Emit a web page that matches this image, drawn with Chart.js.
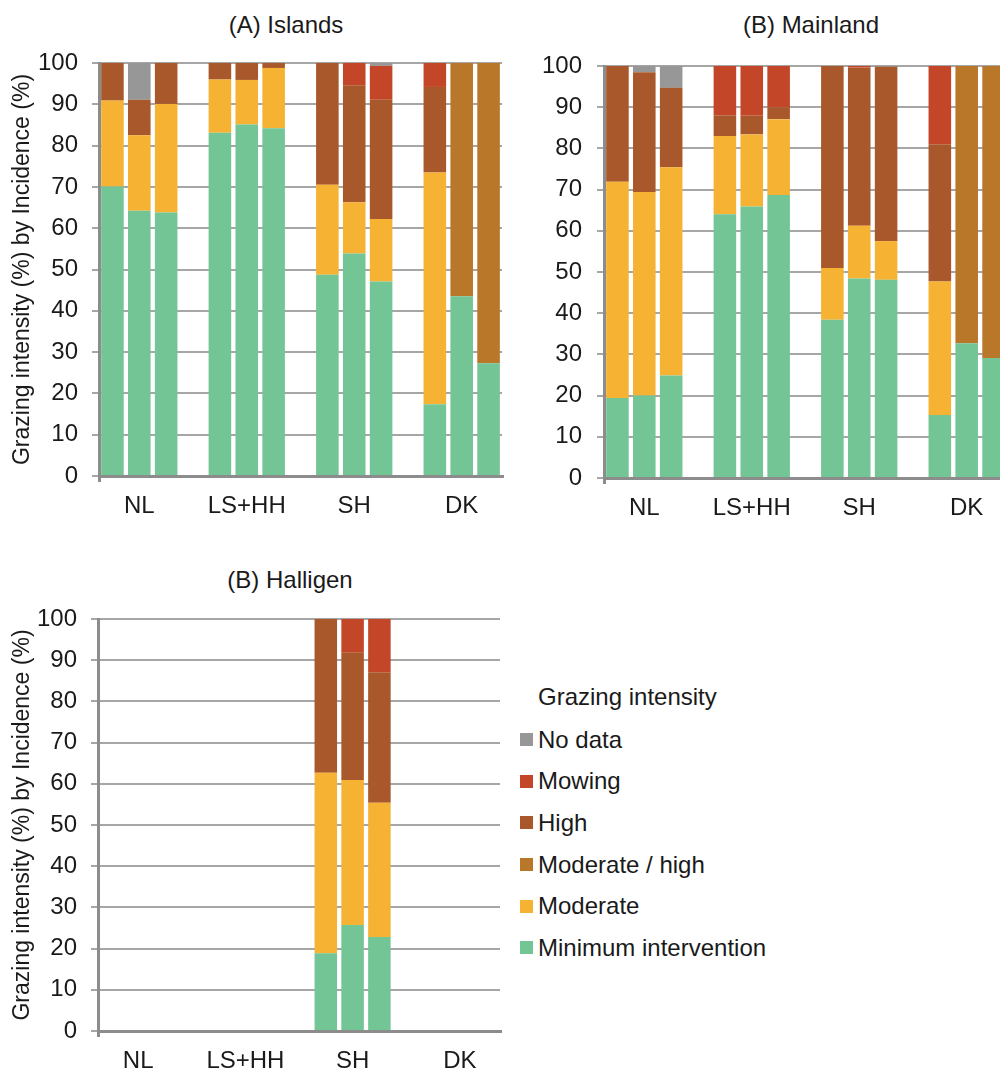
<!DOCTYPE html>
<html>
<head>
<meta charset="utf-8">
<script src="https://cdn.jsdelivr.net/npm/chart.js@4.4.1/dist/chart.umd.min.js"></script>
<style>
  body { margin: 0; background: #fff; overflow: hidden; font-family: "Liberation Sans", Arial, sans-serif; }
  #page { position: relative; width: 1000px; height: 1070px; overflow: hidden; background: #fff; }
  canvas { position: absolute; }
  .panel-title { position: absolute; font-size: 24px; color: #1a1a1a; transform: translate(-50%, -50%); white-space: nowrap; }
  #legend { position: absolute; left: 520px; top: 675px; font-size: 24px; color: #1a1a1a; }
  #legend .row { height: 41.6px; display: flex; align-items: center; white-space: nowrap; }
  #legend .head { padding-left: 18px; height: 44px; }
  #legend .box { width: 13px; height: 13px; margin-right: 5px; }
</style>
</head>
<body>
<div id="page">
  <div class="panel-title" style="left:286px; top:25px;">(A) Islands</div>
  <div class="panel-title" style="left:811px; top:25px;">(B) Mainland</div>
  <div class="panel-title" style="left:290px; top:580px;">(B) Halligen</div>
  <canvas id="islands" width="515" height="520" style="left:0; top:0;"></canvas>
  <canvas id="mainland" width="520" height="520" style="left:500px; top:0;"></canvas>
  <canvas id="halligen" width="515" height="510" style="left:0; top:560px;"></canvas>
  <div id="legend"></div>
</div>
<script>
// categories and series (bottom of stack first)
const groups = ['NL', 'LS+HH', 'SH', 'DK'];
const seriesNames = ['Minimum intervention', 'Moderate', 'Moderate / high', 'High', 'Mowing', 'No data'];
const seriesColors = ['#73c596', '#f5b233', '#b9772a', '#a8582a', '#c44628', '#979797'];
const yTicks = [0, 10, 20, 30, 40, 50, 60, 70, 80, 90, 100];
const yTitle = 'Grazing intensity (%) by Incidence (%)';

// three bars per group
const islandsMinimum  = [70.1, 64.2, 63.8, 83.1, 85.1, 84.2, 48.7, 53.9, 47.1, 17.4, 43.5, 27.3];
const islandsModerate = [20.8, 18.3, 26.3, 12.9, 10.8, 14.6, 21.8, 12.4, 15.1, 56.1, 0, 0];
const islandsModHigh  = [0, 0, 0, 0, 0, 0, 0, 0, 0, 0, 56.5, 72.7];
const islandsHigh     = [9.1, 8.6, 9.9, 4.0, 4.1, 1.2, 29.5, 28.3, 28.9, 20.7, 0, 0];
const islandsMowing   = [0, 0, 0, 0, 0, 0, 0, 5.4, 8.2, 5.8, 0, 0];
const islandsNoData   = [0, 8.9, 0, 0, 0, 0, 0, 0, 0.7, 0, 0, 0];

const mainlandMinimum  = [19.4, 20.0, 24.9, 64.0, 65.9, 68.7, 38.4, 48.4, 48.1, 15.3, 32.7, 29.1];
const mainlandModerate = [52.5, 49.4, 50.5, 19.0, 17.5, 18.4, 12.6, 12.8, 9.4, 32.4, 0, 0];
const mainlandModHigh  = [0, 0, 0, 0, 0, 0, 0, 0, 0, 0, 67.3, 70.9];
const mainlandHigh     = [28.1, 29.1, 19.3, 5.0, 4.5, 2.9, 49.0, 38.4, 42.3, 33.3, 0, 0];
const mainlandMowing   = [0, 0, 0, 12.0, 12.1, 10.0, 0, 0.4, 0, 19.0, 0, 0];
const mainlandNoData   = [0, 1.5, 5.3, 0, 0, 0, 0, 0, 0.2, 0, 0, 0];

const halligenMinimum  = [null, null, null, null, null, null, 18.9, 25.7, 22.8, null, null, null];
const halligenModerate = [null, null, null, null, null, null, 43.8, 35.2, 32.6, null, null, null];
const halligenModHigh  = [null, null, null, null, null, null, 0, 0, 0, null, null, null];
const halligenHigh     = [null, null, null, null, null, null, 37.3, 31.0, 31.7, null, null, null];
const halligenMowing   = [null, null, null, null, null, null, 0, 8.1, 12.9, null, null, null];
const halligenNoData   = [null, null, null, null, null, null, 0, 0, 0, null, null, null];

// 3 bars per group plus an empty slot between groups
function toSlots(values) {
    const out = [];
    values.forEach((v, i) => {
        out.push(v);
        if (i % 3 === 2 && i < values.length - 1) out.push(null);
    });
    return out;
}

const slotLabels = [];
groups.forEach((g, k) => {
    slotLabels.push('', g, '');
    if (k < groups.length - 1) slotLabels.push('');
});

const textColor = '#1a1a1a';
const gridColor = '#a6a6a6';
const axisColor = '#8c8c8c';
const fontFamily = '"Liberation Sans", Arial, sans-serif';

function makePanel(id, series, o) {
    const ctx = document.getElementById(id).getContext('2d');
    return new Chart(ctx, {
        type: 'bar',
        data: {
            labels: slotLabels,
            datasets: series.map((values, i) => ({
                label: seriesNames[i],
                data: toSlots(values),
                backgroundColor: seriesColors[i],
                borderWidth: 0,
                categoryPercentage: 1,
                barPercentage: 0.84
            }))
        },
        options: {
            responsive: false,
            animation: false,
            layout: { padding: o.padding },
            plugins: { legend: { display: false }, tooltip: { enabled: false } },
            scales: {
                x: {
                    stacked: true,
                    afterFit: s => { s.height = o.xHeight; },
                    grid: {
                        drawOnChartArea: false,
                        tickLength: 6,
                        lineWidth: 3,
                        color: c => c.index === 0 ? axisColor : 'rgba(0,0,0,0)'
                    },
                    border: { color: axisColor, width: 3 },
                    ticks: {
                        autoSkip: false, maxRotation: 0, padding: 10,
                        color: textColor, font: { family: fontFamily, size: 24 }
                    }
                },
                y: {
                    stacked: true,
                    min: 0, max: 100,
                    afterFit: s => { s.width = o.yWidth; },
                    afterBuildTicks: s => { s.ticks = yTicks.map(v => ({ value: v })); },
                    grid: { color: gridColor, lineWidth: 2, tickLength: 7 },
                    border: { color: axisColor, width: 3 },
                    ticks: { padding: o.tickPad, color: textColor, font: { family: fontFamily, size: 24 } },
                    title: {
                        display: o.showTitle,
                        text: yTitle,
                        color: textColor,
                        font: { family: fontFamily, size: 23 },
                        padding: { top: 9, bottom: 0 }
                    }
                }
            }
        }
    });
}

makePanel('islands',
    [islandsMinimum, islandsModerate, islandsModHigh, islandsHigh, islandsMowing, islandsNoData],
    { padding: { top: 63, right: 13, left: 0, bottom: 0 }, yWidth: 99, xHeight: 44, tickPad: 14, showTitle: true });

makePanel('mainland',
    [mainlandMinimum, mainlandModerate, mainlandModHigh, mainlandHigh, mainlandMowing, mainlandNoData],
    { padding: { top: 66, right: 13, left: 0, bottom: 0 }, yWidth: 104, xHeight: 42, tickPad: 15, showTitle: false });

makePanel('halligen',
    [halligenMinimum, halligenModerate, halligenModHigh, halligenHigh, halligenMowing, halligenNoData],
    { padding: { top: 59, right: 15, left: 0, bottom: 0 }, yWidth: 98, xHeight: 39, tickPad: 14, showTitle: true });

// legend, top entry is the top of the stack
const legend = document.getElementById('legend');
legend.innerHTML = '<div class="row head">Grazing intensity</div>' +
    seriesNames.map((name, i) =>
        `<div class="row"><span class="box" style="background:${seriesColors[i]}"></span>${name}</div>`
    ).reverse().join('');
</script>
</body>
</html>
